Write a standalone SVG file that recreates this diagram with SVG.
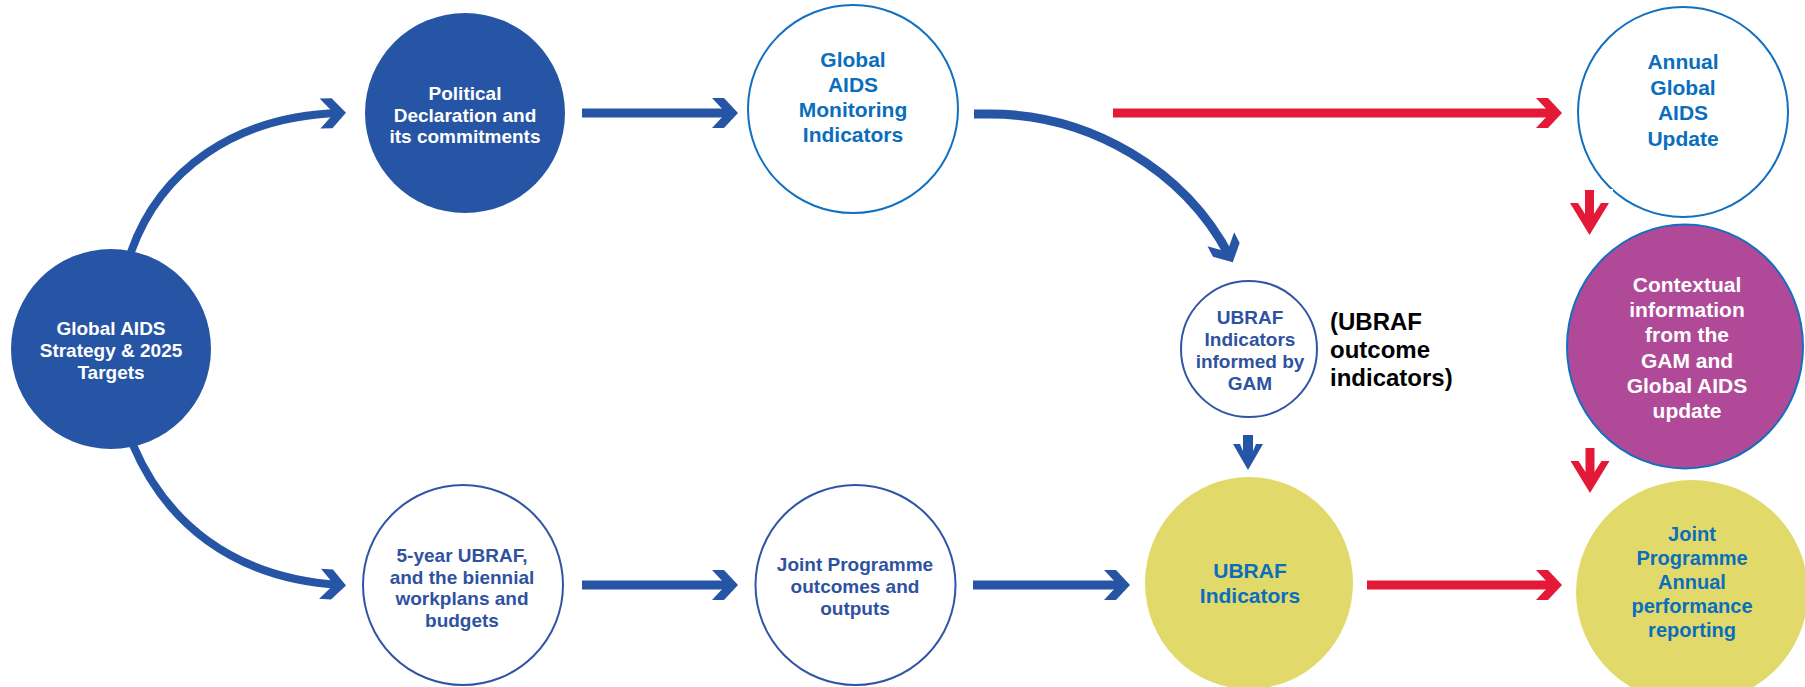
<svg xmlns="http://www.w3.org/2000/svg" width="1805" height="687" viewBox="0 0 1805 687">
<style>
text{font-family:"Liberation Sans",Arial,sans-serif;font-weight:bold;text-anchor:middle}
.dk{fill:#2755A5}
.wt{fill:#fff}
.lb{fill:#0A6EBD}
.nv{fill:#2F52A0}
.ol-lb{fill:#fff;stroke:#1270C0;stroke-width:2}
.ol-nv{fill:#fff;stroke:#2F55A4;stroke-width:2}
.f19{font-size:19px}
.f20{font-size:20px}
.f21{font-size:21px}
.bl{stroke:#2755A5;fill:none}
.rd{stroke:#E31937;fill:none}
</style>
<defs>
<marker id="ab" viewBox="-22 -17 30 34" refX="0" refY="0" markerWidth="30" markerHeight="34" markerUnits="userSpaceOnUse" orient="auto">
<polygon points="-20,-15 -8,-15 6,0 -8,15 -20,15 -6,0" fill="#2755A5"/>
</marker>
<marker id="ar" viewBox="-22 -17 30 34" refX="0" refY="0" markerWidth="30" markerHeight="34" markerUnits="userSpaceOnUse" orient="auto">
<polygon points="-20,-15 -8,-15 6,0 -8,15 -20,15 -6,0" fill="#E31937"/>
</marker>
<path id="rdown" d="M-4.5,-45 H4.5 V-21 L11.5,-32 H19.5 L0,0 L-19.5,-32 H-11.5 L-4.5,-21 Z" fill="#E31937"/>
</defs>
<rect width="1805" height="687" fill="#fff"/>

<g id="n-strategy">
<circle cx="111" cy="349" r="100" class="dk"/>
<text class="wt f19"><tspan x="111" y="335">Global AIDS</tspan><tspan x="111" y="357">Strategy &amp; 2025</tspan><tspan x="111" y="379">Targets</tspan></text>
</g>
<g id="n-political">
<circle cx="465" cy="113" r="100" class="dk"/>
<text class="wt f19"><tspan x="465" y="100">Political</tspan><tspan x="465" y="122">Declaration and</tspan><tspan x="465" y="143">its commitments</tspan></text>
</g>
<g id="n-gam">
<ellipse cx="853" cy="109" rx="105" ry="104" class="ol-lb"/>
<text class="lb f21"><tspan x="853" y="67">Global</tspan><tspan x="853" y="92">AIDS</tspan><tspan x="853" y="117">Monitoring</tspan><tspan x="853" y="142">Indicators</tspan></text>
</g>
<g id="n-annual">
<circle cx="1683" cy="112" r="105" class="ol-lb"/>
<text class="lb f21"><tspan x="1683" y="69">Annual</tspan><tspan x="1683" y="95">Global</tspan><tspan x="1683" y="120">AIDS</tspan><tspan x="1683" y="146">Update</tspan></text>
</g>
<g id="n-context">
<ellipse cx="1685" cy="346.5" rx="118" ry="122" fill="#B04A98" stroke="#1270C0" stroke-width="2"/>
<text class="wt f21"><tspan x="1687" y="292">Contextual</tspan><tspan x="1687" y="317">information</tspan><tspan x="1687" y="342">from the</tspan><tspan x="1687" y="368">GAM and</tspan><tspan x="1687" y="393">Global AIDS</tspan><tspan x="1687" y="418">update</tspan></text>
</g>
<g id="n-informed">
<circle cx="1249" cy="349" r="68" class="ol-nv"/>
<text class="nv f19"><tspan x="1250" y="324">UBRAF</tspan><tspan x="1250" y="346">Indicators</tspan><tspan x="1250" y="368">informed by</tspan><tspan x="1250" y="390">GAM</tspan></text>
</g>
<g id="lbl-outcome">
<text style="text-anchor:start;font-size:24px" fill="#000"><tspan x="1330" y="330">(UBRAF</tspan><tspan x="1330" y="358">outcome</tspan><tspan x="1330" y="386">indicators)</tspan></text>
</g>
<g id="n-ubraf5">
<circle cx="463" cy="585" r="100" class="ol-nv"/>
<text class="nv f19"><tspan x="462" y="562">5-year UBRAF,</tspan><tspan x="462" y="583.5">and the biennial</tspan><tspan x="462" y="605">workplans and</tspan><tspan x="462" y="627">budgets</tspan></text>
</g>
<g id="n-jpoutcomes">
<circle cx="855.5" cy="585" r="100" class="ol-nv"/>
<text class="nv f19"><tspan x="855" y="571">Joint Programme</tspan><tspan x="855" y="593">outcomes and</tspan><tspan x="855" y="615">outputs</tspan></text>
</g>
<g id="n-ubrafind">
<ellipse cx="1249" cy="583" rx="104" ry="106" fill="#E1DA6B"/>
<text class="lb f21"><tspan x="1250" y="578">UBRAF</tspan><tspan x="1250" y="603">Indicators</tspan></text>
</g>
<g id="n-jpannual">
<ellipse cx="1692" cy="592" rx="116" ry="112" fill="#E1DA6B"/>
<text class="lb f20"><tspan x="1692" y="541">Joint</tspan><tspan x="1692" y="565">Programme</tspan><tspan x="1692" y="589">Annual</tspan><tspan x="1692" y="613">performance</tspan><tspan x="1692" y="637">reporting</tspan></text>
</g>

<g id="connectors">
<path d="M131 252 C160 170 235 116 340 113" class="bl" stroke-width="8" marker-end="url(#ab)"/>
<path d="M582 113 H732" class="bl" stroke-width="9" marker-end="url(#ab)"/>
<path d="M974 114 L990 114 C1090 114 1185 170 1230 257" class="bl" stroke-width="9" marker-end="url(#ab)"/>
<path d="M1113 113 H1556" class="rd" stroke-width="9" marker-end="url(#ar)"/>
<path d="M133 445 C165 520 230 578 340 585" class="bl" stroke-width="8" marker-end="url(#ab)"/>
<path d="M582 585 H732" class="bl" stroke-width="9" marker-end="url(#ab)"/>
<path d="M973 585 H1124" class="bl" stroke-width="9" marker-end="url(#ab)"/>
<path d="M1367 585 H1556" class="rd" stroke-width="9" marker-end="url(#ar)"/>
<polygon points="1243,435 1253,435 1253,451 1256,444 1263,444 1248,470 1233,444 1240,444 1243,451" fill="#2755A5"/>
<rect x="1566" y="189" width="47" height="48" fill="#fff"/>
<use href="#rdown" transform="translate(1589.5 235)"/>
<use href="#rdown" transform="translate(1590 493)"/>
</g>
</svg>
